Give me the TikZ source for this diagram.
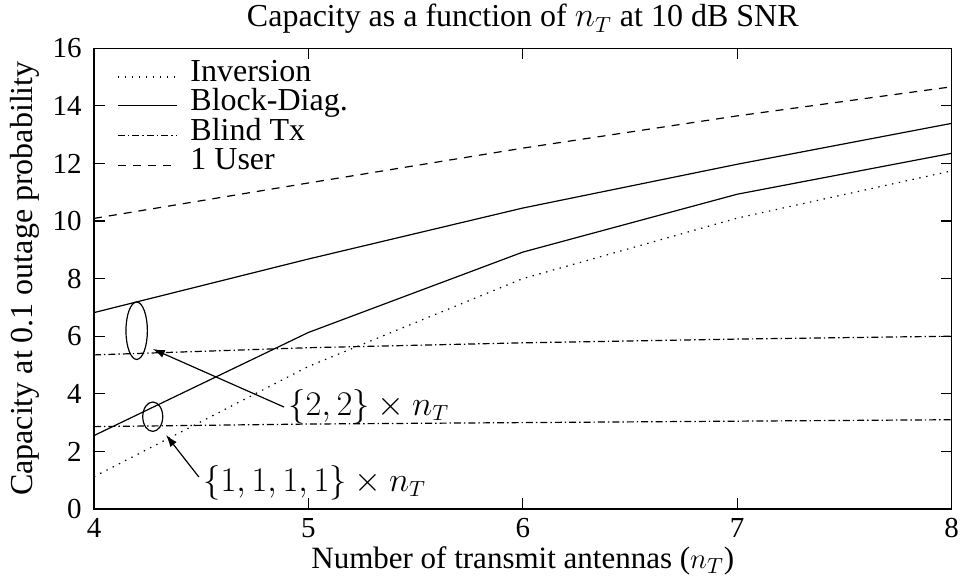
\documentclass[tikz,border=0pt]{standalone}
\usepackage{fontspec}
\setmainfont{Liberation Serif}
\usetikzlibrary{shapes.geometric,arrows.meta}
\newcommand{\series}[2] {
    \draw[#1] plot coordinates {#2};
}
\newcommand{\legendrow}[4] {
    \draw[#2] (4.112,{#1}) -- (4.387,{#1});
    \node[keytext] (#3) at (4.448,{#1}) {#4};
}
\tikzset{
    axisframe/.style={line width=0.65pt},
    curve/.style={line width=0.6pt,line join=round},
    inv/.style={curve,dash pattern=on 0.7pt off 2.8pt},
    blk/.style={curve},
    blind/.style={curve,dash pattern=on 3.5pt off 1.5pt on 0.7pt off 1.5pt},
    oneuser/.style={curve,dash pattern=on 4pt off 3.5pt},
    keytext/.style={anchor=mid west,inner sep=0pt,text height=0.68em,text depth=0.18em},
    ticklab/.style={inner sep=0pt,font=\fontsize{14.5}{17}\selectfont},
    axlab/.style={inner sep=0pt},
    ring/.style={ellipse,draw,line width=0.6pt,inner sep=0pt},
    pointer/.style={line width=0.6pt,-{Latex[length=6pt,width=4pt]}}
}

\begin{document}
\begin{tikzpicture}[x=107.2pt,y=14.4pt,font=\fontsize{16}{19}\selectfont]
    \useasboundingbox (3.5616,-2.4306) rectangle (8.0532,17.674);
    % frame and ticks
    \draw[axisframe] (4,0) rectangle (8,16);
    \foreach \y in {0,2,...,16} {
        \draw[axisframe] (4,\y) -- ++(5.5pt,0);
        \draw[axisframe] (8,\y) -- ++(-5.5pt,0);
        \node[ticklab,anchor=east] (yt\y) at ([xshift=-6pt]4,\y) {\y};
    }
    \foreach \x in {4,...,8} {
        \draw[axisframe] (\x,0) -- ++(0,5.5pt);
        \draw[axisframe] (\x,16) -- ++(0,-5.5pt);
        \node[ticklab,anchor=north] (xt\x) at ([yshift=-4.5pt]\x,0) {\x};
    }
    \node (title) at (6,17.01) {Capacity as a function of $n_T$ at 10 dB SNR};
    \node[axlab,anchor=base,font=\fontsize{15.5}{18}\selectfont] (xlabel) at (6,-2.059) {Number of transmit antennas ($n_T$)};
    \node[rotate=90] (ylabel) at (3.678,8) {Capacity at 0.1 outage probability};
    % curves
    \series{oneuser}{(4,10.09) (5,11.32) (6,12.53) (7,13.65) (8,14.66)}
    \series{blk}{(4,6.82) (5,8.68) (6,10.45) (7,11.97) (8,13.39)}
    \series{blk}{(4,2.55) (5,6.13) (6,8.92) (7,10.93) (8,12.35)}
    \series{inv}{(4,1.12) (5,4.95) (6,8.0) (7,10.1) (8,11.74)}
    \series{blind}{(4,5.35) (5,5.6) (6,5.77) (7,5.9) (8,6.0)}
    \series{blind}{(4,2.86) (5,2.95) (6,3.0) (7,3.05) (8,3.1)}
    % legend
    \legendrow{15.0}{inv}{keyinv}{Inversion}
    \legendrow{14.0}{blk}{keyblk}{Block-Diag.}
    \legendrow{12.97}{blind}{keyblind}{Blind Tx}
    \legendrow{11.94}{oneuser}{keyone}{1 User}
    % user groupings
    \node[ring,minimum width=10.7pt,minimum height=28.7pt] (ring22) at (4.199,6.19) {};
    \node[ring,minimum width=10pt,minimum height=14.7pt] (ring1111) at (4.274,3.205) {};
    \coordinate (tip22) at (4.274,5.556);
    \coordinate (tip1111) at (4.336,2.57);
    \node[axlab,anchor=west] (lab22) at (4.905,3.54) {$\{2,2\}\times n_T$};
    \node[axlab,anchor=west] (lab1111) at (4.508,0.90) {$\{1,1,1,1\}\times n_T$};
    \draw[pointer] ([xshift=-2pt]lab22.west) -- (tip22);
    \draw[pointer] ([shift={(-2pt,3pt)}]lab1111.west) -- (tip1111);
\end{tikzpicture}
\end{document}
